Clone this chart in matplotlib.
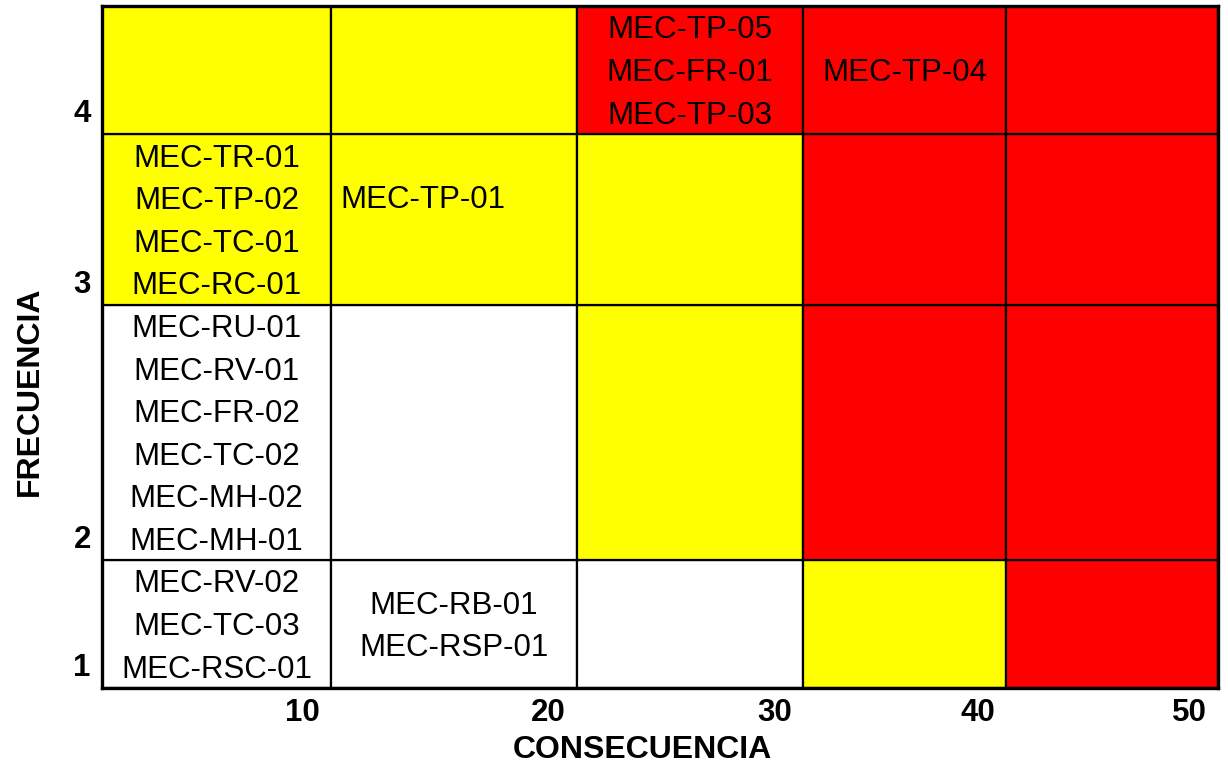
import matplotlib
matplotlib.use("Agg")
import matplotlib.pyplot as plt
from matplotlib.patches import Rectangle
from matplotlib.transforms import blended_transform_factory, ScaledTranslation

plt.rcParams["font.family"] = ["Liberation Sans", "DejaVu Sans"]

# axis categories
consequence = [10, 20, 30, 40, 50]
frequency = [1, 2, 3, 4]

# cell sizes (columns left->right, rows bottom->top)
col_widths = [229, 246, 226, 203, 212]
row_heights = [128, 255, 171, 128]

W, Y, R = "#FFFFFF", "#FFFF00", "#FF0000"
# risk level colour per frequency row (bottom -> top)
cell_colors = [
    [W, W, W, Y, R],
    [W, W, Y, R, R],
    [Y, Y, Y, R, R],
    [Y, Y, R, R, R],
]

# hazard codes per (frequency, consequence) cell
cell_codes = {
    (4, 30): ["MEC-TP-05", "MEC-FR-01", "MEC-TP-03"],
    (4, 40): ["MEC-TP-04"],
    (3, 10): ["MEC-TR-01", "MEC-TP-02", "MEC-TC-01", "MEC-RC-01"],
    (3, 20): ["MEC-TP-01"],
    (2, 10): ["MEC-RU-01", "MEC-RV-01", "MEC-FR-02", "MEC-TC-02",
              "MEC-MH-02", "MEC-MH-01"],
    (1, 10): ["MEC-RV-02", "MEC-TC-03", "MEC-RSC-01"],
    (1, 20): ["MEC-RB-01", "MEC-RSP-01"],
}

x_edges = [0]
for w in col_widths:
    x_edges.append(x_edges[-1] + w)
y_edges = [0]
for h in row_heights:
    y_edges.append(y_edges[-1] + h)

fig = plt.figure(figsize=(12.28, 7.65), dpi=100)
ax = fig.add_axes([102 / 1228, 1 - 688 / 765, 1116 / 1228, 682 / 765])
ax.set_xlim(0, x_edges[-1])
ax.set_ylim(0, y_edges[-1])

for i, f in enumerate(frequency):
    for j, c in enumerate(consequence):
        ax.add_patch(Rectangle((x_edges[j], y_edges[i]), col_widths[j], row_heights[i],
                               facecolor=cell_colors[i][j], edgecolor="black", lw=1.6))

line_step = 42.5
for (f, c), codes in cell_codes.items():
    i = frequency.index(f)
    j = consequence.index(c)
    xc = (x_edges[j] + x_edges[j + 1]) / 2
    yc = (y_edges[i] + y_edges[i + 1]) / 2
    if (f, c) == (3, 20):
        xc -= 31
        yc += 22
    n = len(codes)
    for k, code in enumerate(codes):
        y = yc + (n - 1) / 2 * line_step - k * line_step
        ax.text(xc, y - 11, code, ha="center", va="baseline", fontsize=22.5, color="black")

# tick labels sit at the upper/right end of each band
dx = ScaledTranslation(-11 / 100, 0, fig.dpi_scale_trans)
tx = blended_transform_factory(ax.transData, ax.transAxes)
for j, c in enumerate(consequence):
    ax.text(x_edges[j + 1], -0.014, str(c), transform=tx + dx, ha="right", va="top",
            fontsize=22.5, fontweight="bold")
ty = blended_transform_factory(ax.transAxes, ax.transData)
for i, f in enumerate(frequency):
    ax.text(-0.01, y_edges[i] + 12, str(f), transform=ty, ha="right", va="baseline",
            fontsize=22.5, fontweight="bold")

fig.text(642 / 1228, 1 - 750 / 765, "CONSECUENCIA", ha="center", va="center",
         fontsize=23, fontweight="bold")
fig.text(30 / 1228, 1 - 391 / 765, "FRECUENCIA", ha="center", va="center",
         rotation=90, fontsize=23, fontweight="bold")

ax.set_xticks([])
ax.set_yticks([])
for s in ax.spines.values():
    s.set_linewidth(2.4)
    s.set_zorder(5)

fig.savefig("out.png", dpi=100)
